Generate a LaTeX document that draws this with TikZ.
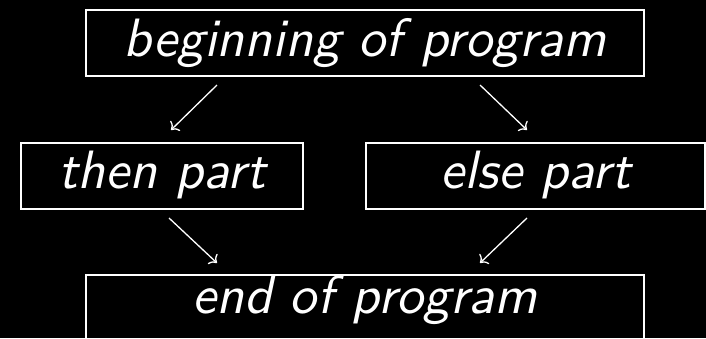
\documentclass[tikz,border=0pt]{standalone}
\usepackage{fontspec}
\setsansfont{lmsans10-regular}[Extension=.otf,ItalicFont=lmsans10-oblique]
\usetikzlibrary{arrows.meta,calc}
\begin{document}
\begin{tikzpicture}[x=1pt,y=-1pt,
  boxstyle/.style={draw=white,line width=2pt,inner sep=0pt,text=white,
    font=\fontsize{54}{60}\selectfont\sffamily\itshape,
    text height=46.5pt,text depth=19.5pt},
  arr/.style={draw=white,line width=1.3pt,-{To[length=6.5pt,width=14pt]}}]
\fill[black] (0,0) rectangle (706,338);
\useasboundingbox (0,0) rectangle (706,338);
\clip (0,0) rectangle (706,338);
\node[boxstyle,minimum width=558pt,anchor=north west] (top) at (85,9) {beginning of program};
\node[boxstyle,minimum width=282pt,anchor=north west,text height=45pt,text depth=21pt] (then) at (20,142) {then part};
\node[boxstyle,minimum width=339pt,anchor=north west,text height=45pt,text depth=21pt] (else) at (365,142) {else part};
\node[boxstyle,minimum width=558pt,anchor=north west,text height=38pt,text depth=40pt] (end) at (85,274) {end of program};
\coordinate (a1s) at ($(top.south west)+(132,8)$);
\coordinate (a1e) at ($(then.north west)+(151,-12)$);
\coordinate (a2s) at ($(top.south west)+(395,8)$);
\coordinate (a2e) at ($(else.north west)+(162,-12)$);
\coordinate (a3s) at ($(then.south west)+(149,8)$);
\coordinate (a3e) at ($(end.north west)+(132,-11)$);
\coordinate (a4s) at ($(else.south west)+(162,8)$);
\coordinate (a4e) at ($(end.north west)+(395,-11)$);
\draw[arr] (a1s) -- (a1e);
\draw[arr] (a2s) -- (a2e);
\draw[arr] (a3s) -- (a3e);
\draw[arr] (a4s) -- (a4e);
\end{tikzpicture}
\end{document}
